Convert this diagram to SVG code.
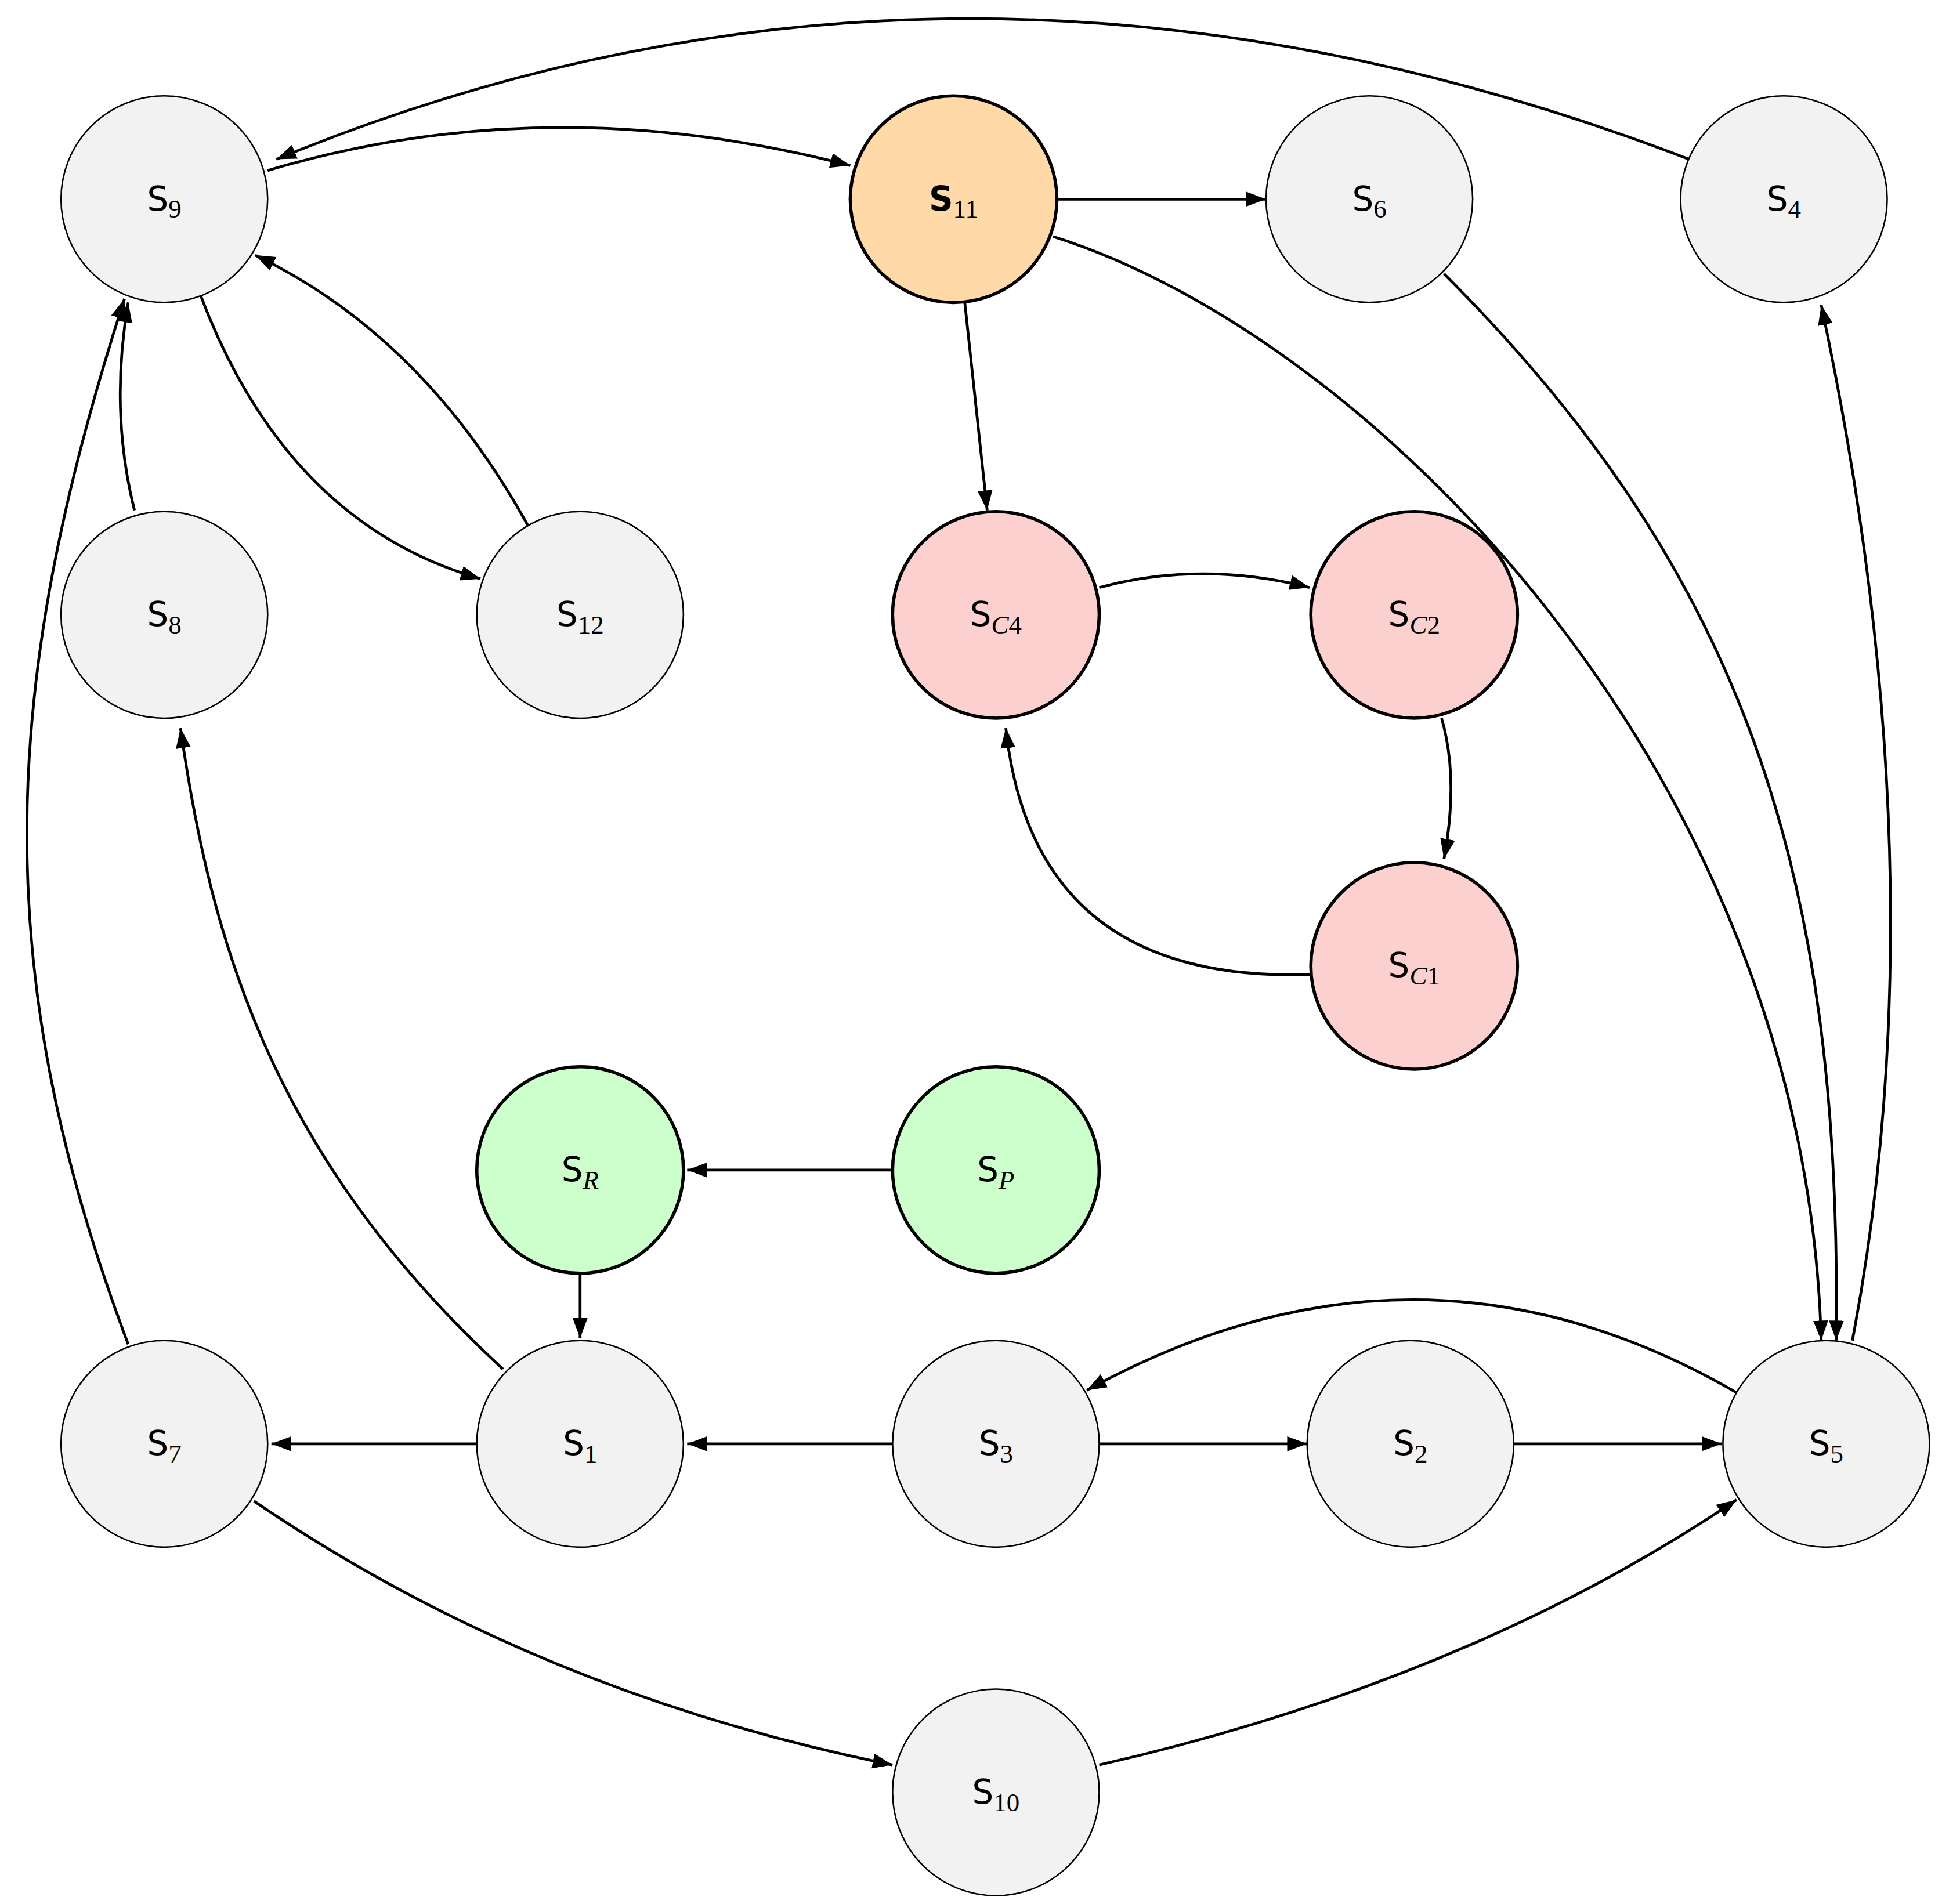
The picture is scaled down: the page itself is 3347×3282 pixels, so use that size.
<svg xmlns="http://www.w3.org/2000/svg" width="3347" height="3282" viewBox="0 0 3347 3282">
<style>
.n{fill:#f2f2f2;stroke:#000;stroke-width:1.2}
.o{fill:#ffd9a8;stroke:#000;stroke-width:2.6}
.r{fill:#fdd0d0;stroke:#000;stroke-width:2.6}
.g{fill:#ccffcc;stroke:#000;stroke-width:2.6}
.t{font-family:"DejaVu Sans",sans-serif;font-size:27px;text-anchor:middle}
.sub{font-family:"Liberation Serif",serif;font-size:21px}
.it{font-style:italic}
#edges path{fill:none;stroke:#000;stroke-width:2.2;marker-end:url(#a)}
</style>
<defs><marker id="a" markerUnits="userSpaceOnUse" markerWidth="18" markerHeight="14" refX="16" refY="6" orient="auto"><path d="M0,0 L16,6 L0,12 z" fill="#000"/></marker></defs>
<rect width="3347" height="3282" fill="#fff"/>
<g transform="scale(2.1455)">
<g id="edges">
<path d="M215,137 Q440,70 683,133"/>
<path d="M1357,128 Q770,-98 222,128"/>
<path d="M849,160 L1017,160"/>
<path d="M846,190 C1100,270 1450,620 1463,1077"/>
<path d="M1160,220 C1400,460 1480,700 1475,1077"/>
<path d="M1488,1077 Q1560,700 1463,245"/>
<path d="M775,243 L793,410"/>
<path d="M883,472 Q965,450 1052,472"/>
<path d="M1158,577 Q1172,625 1160,690"/>
<path d="M1052,783 Q830,790 808,585"/>
<path d="M161,237 Q230,420 386,465"/>
<path d="M424,422 Q340,270 205,205"/>
<path d="M108,410 Q88,330 103,243"/>
<path d="M103,1080 C-10,780 0,550 100,240"/>
<path d="M404,1100 C220,930 170,760 145,585"/>
<path d="M466,1023 L466,1075"/>
<path d="M717,940 L552,940"/>
<path d="M383,1160 L218,1160"/>
<path d="M717,1160 L552,1160"/>
<path d="M883,1160 L1050,1160"/>
<path d="M1216,1160 L1383,1160"/>
<path d="M1397,1120 Q1140,970 873,1117"/>
<path d="M204,1206 Q430,1360 717,1418"/>
<path d="M883,1418 Q1180,1350 1395,1205"/>
</g>
<g id="S9"><circle class="n" cx="132" cy="160" r="83"/><text class="t" x="132" y="169">S<tspan class="sub" dy="6">9</tspan></text></g>
<g id="S11"><circle class="o" cx="766" cy="160" r="83"/><text class="t" x="766" y="169" font-weight="bold">S<tspan class="sub" dy="6" font-weight="normal">11</tspan></text></g>
<g id="S6"><circle class="n" cx="1100" cy="160" r="83"/><text class="t" x="1100" y="169">S<tspan class="sub" dy="6">6</tspan></text></g>
<g id="S4"><circle class="n" cx="1433" cy="160" r="83"/><text class="t" x="1433" y="169">S<tspan class="sub" dy="6">4</tspan></text></g>
<g id="S8"><circle class="n" cx="132" cy="494" r="83"/><text class="t" x="132" y="503">S<tspan class="sub" dy="6">8</tspan></text></g>
<g id="S12"><circle class="n" cx="466" cy="494" r="83"/><text class="t" x="466" y="503">S<tspan class="sub" dy="6">12</tspan></text></g>
<g id="SC4"><circle class="r" cx="800" cy="494" r="83"/><text class="t" x="800" y="503">S<tspan class="sub it" dy="6">C</tspan><tspan class="sub">4</tspan></text></g>
<g id="SC2"><circle class="r" cx="1136" cy="494" r="83"/><text class="t" x="1136" y="503">S<tspan class="sub it" dy="6">C</tspan><tspan class="sub">2</tspan></text></g>
<g id="SC1"><circle class="r" cx="1136" cy="776" r="83"/><text class="t" x="1136" y="785">S<tspan class="sub it" dy="6">C</tspan><tspan class="sub">1</tspan></text></g>
<g id="SR"><circle class="g" cx="466" cy="940" r="83"/><text class="t" x="466" y="949">S<tspan class="sub it" dy="6">R</tspan></text></g>
<g id="SP"><circle class="g" cx="800" cy="940" r="83"/><text class="t" x="800" y="949">S<tspan class="sub it" dy="6">P</tspan></text></g>
<g id="S7"><circle class="n" cx="132" cy="1160" r="83"/><text class="t" x="132" y="1169">S<tspan class="sub" dy="6">7</tspan></text></g>
<g id="S1"><circle class="n" cx="466" cy="1160" r="83"/><text class="t" x="466" y="1169">S<tspan class="sub" dy="6">1</tspan></text></g>
<g id="S3"><circle class="n" cx="800" cy="1160" r="83"/><text class="t" x="800" y="1169">S<tspan class="sub" dy="6">3</tspan></text></g>
<g id="S2"><circle class="n" cx="1133" cy="1160" r="83"/><text class="t" x="1133" y="1169">S<tspan class="sub" dy="6">2</tspan></text></g>
<g id="S5"><circle class="n" cx="1467" cy="1160" r="83"/><text class="t" x="1467" y="1169">S<tspan class="sub" dy="6">5</tspan></text></g>
<g id="S10"><circle class="n" cx="800" cy="1440" r="83"/><text class="t" x="800" y="1449">S<tspan class="sub" dy="6">10</tspan></text></g>
</g>
</svg>
